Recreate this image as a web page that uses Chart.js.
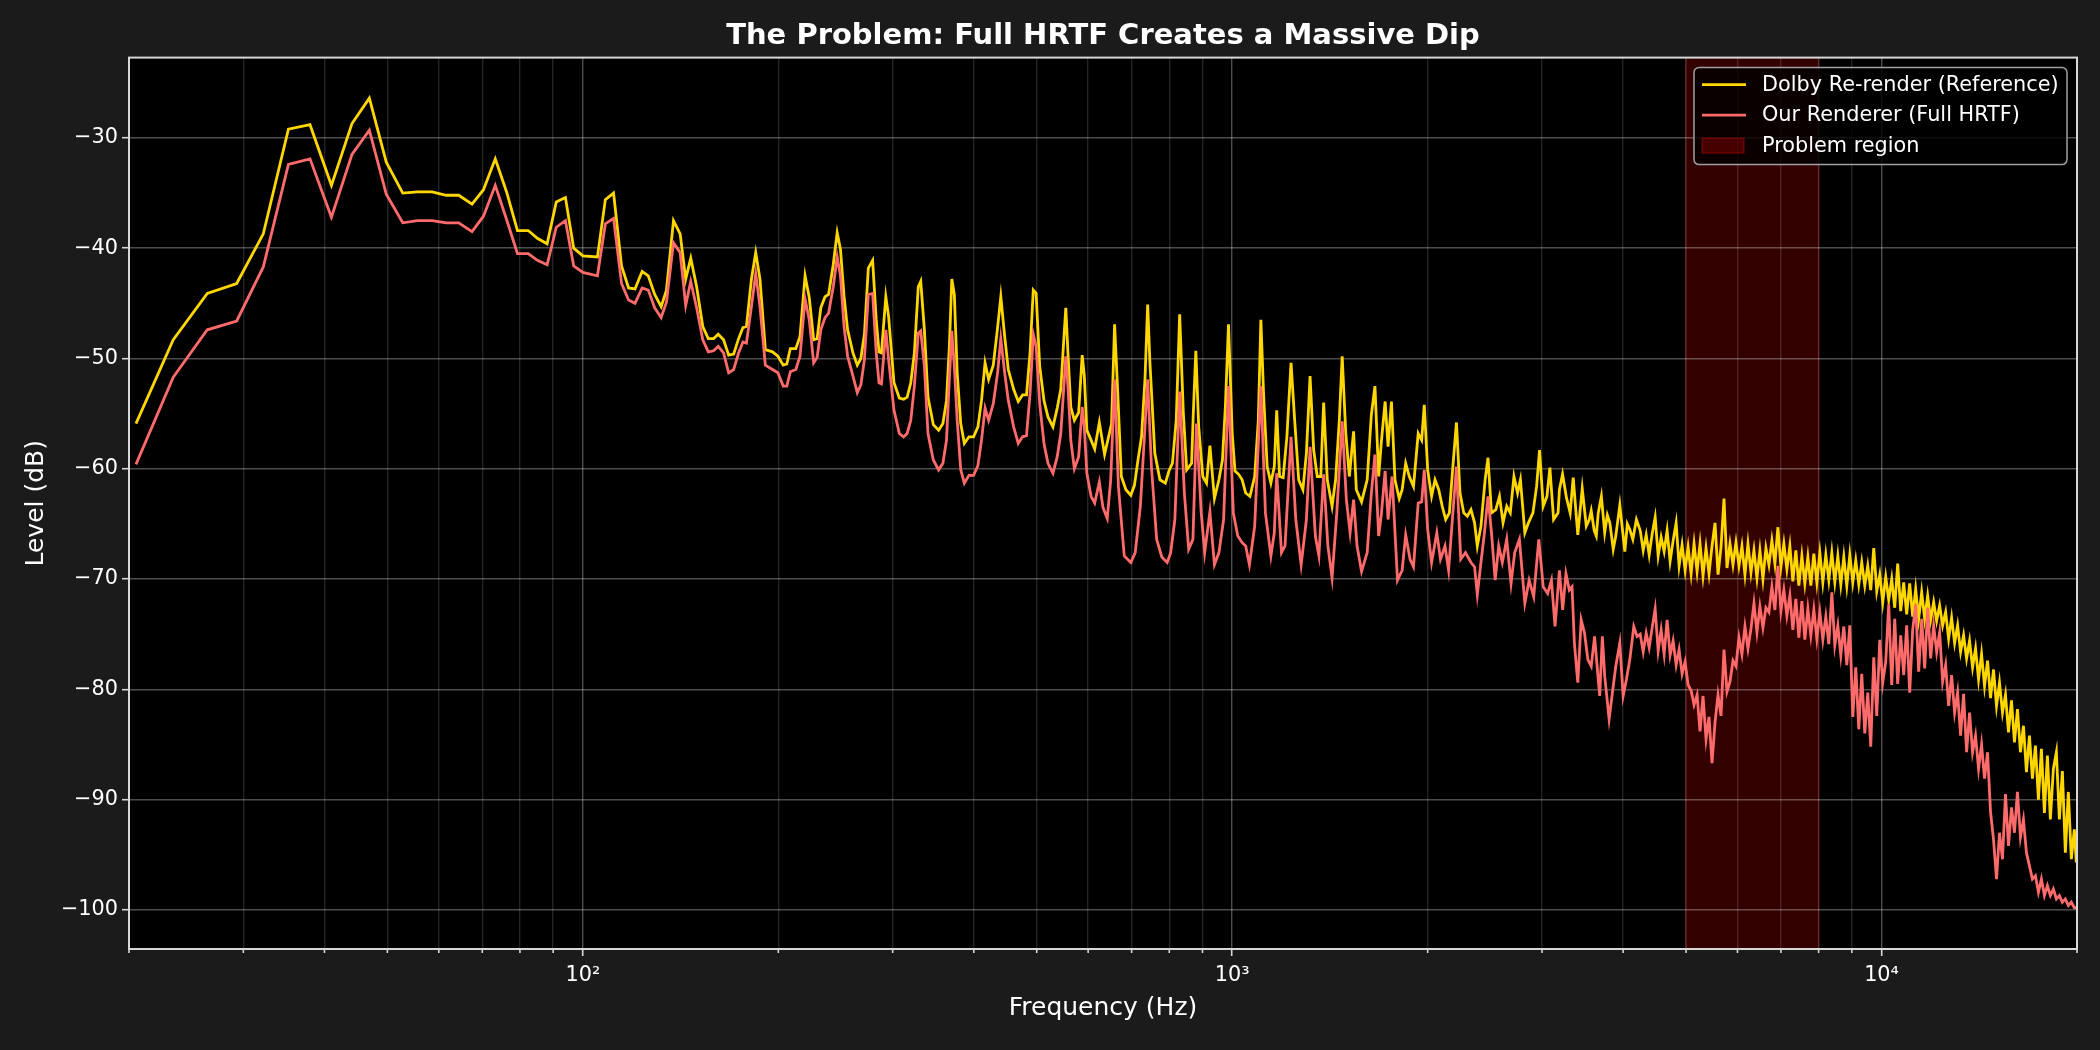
<!DOCTYPE html>
<html>
<head>
<meta charset="utf-8">
<title>The Problem: Full HRTF Creates a Massive Dip</title>
<script src="https://cdn.jsdelivr.net/npm/chart.js@4.4.1/dist/chart.umd.min.js"></script>
<style>
    html, body { margin: 0; padding: 0; background: #1b1b1b; }
    #wrap { width: 2100px; height: 1050px; }
</style>
</head>
<body>
<div id="wrap"><canvas id="hrtfChart" width="2100" height="1050"></canvas></div>
<script>
// values (Hz / dB)
// below ~4.2 kHz each trace has its own frequency list
var dolbyFreq = [20.5, 23.4, 26.4, 29.3, 32.2, 35.2, 38.0, 41.0, 44.1, 46.9, 49.8, 52.8, 55.6, 58.6, 61.6, 64.4, 67.5, 70.3, 73.3, 76.3,
    79.3, 82.4, 85.1, 88.1, 91.0, 94.0, 96.8, 100, 105.3, 108.3, 111.5, 114.7, 117.6, 120.3, 123.4, 126.1, 129, 132, 134.5, 137.9,
    141.2, 144, 146.6, 149.7, 153, 156, 159, 161.6, 164.7, 167.7, 170.7, 173.7, 176.4, 178.6, 181.8, 184.6, 187.4, 191, 195.9, 199.7,
    203.5, 206.1, 208.7, 212.8, 216, 219.9, 223.2, 226.7, 229.5, 232.5, 236, 239, 243, 246.4, 249.3, 252.5, 255.7, 260.6, 264.6, 268,
    271.4, 275.2, 279.4, 283, 285.8, 288.3, 292.8, 295.7, 301.4, 307.2, 311.9, 315.8, 319.9, 324, 328.5, 331.4, 335.7, 340, 346.5, 353.1,
    358.5, 363.1, 366.8, 370, 373.3, 377.1, 381.9, 386.8, 393.2, 399.7, 405.9, 411.1, 416.3, 421.6, 428.6, 435.2, 440.2, 446.3, 452, 460.7,
    468.3, 475.5, 482.2, 488.3, 493.9, 498.9, 505.3, 513, 520.3, 529.6, 537.7, 544.5, 550.1, 554.3, 558.5, 564.2, 571.4, 580.1, 587.5, 591.9,
    597.2, 606.3, 614.1, 624.3, 636, 652, 659, 665, 675, 686, 698, 707, 716, 725, 734, 741, 747, 760, 774, 789,
    799, 809, 820, 830, 841, 851, 866, 871, 879, 888, 901, 913, 924, 939, 954, 966, 976, 987, 1000, 1010,
    1023, 1036, 1049, 1065, 1083, 1097, 1107, 1118, 1132, 1147, 1161, 1171, 1183, 1198, 1214, 1232, 1248, 1266, 1285, 1301,
    1318, 1335, 1352, 1369, 1383, 1401, 1425, 1443, 1462, 1477, 1496, 1515, 1538, 1553, 1582, 1614, 1638, 1659, 1681, 1698,
    1720, 1738, 1759, 1781, 1808, 1827, 1850, 1874, 1902, 1934, 1958, 1976, 2000, 2028, 2053, 2080, 2106, 2132, 2160, 2187,
    2215, 2243, 2273, 2302, 2332, 2362, 2385, 2416, 2452, 2477, 2508, 2547, 2580, 2613, 2647, 2681, 2716, 2751, 2779, 2823,
    2859, 2905, 2943, 2974, 3013, 3053, 3085, 3126, 3176, 3191, 3227, 3271, 3315, 3351, 3406, 3460, 3510, 3548, 3572, 3610,
    3637, 3662, 3703, 3747, 3782, 3816, 3862, 3897, 3953, 3990, 4024, 4060, 4096, 4140, 4193];
var dolbyLevel = [-55.9, -48.3, -44.1, -43.2, -38.7, -29.2, -28.8, -34.3, -28.7, -26.4, -32.2, -35.0, -34.9, -34.9, -35.2, -35.2, -36.0, -34.7, -31.9, -34.9,
    -38.4, -38.4, -39.1, -39.6, -35.8, -35.4, -40.0, -40.7, -40.8, -35.6, -35.0, -41.6, -43.6, -43.7, -42.1, -42.5, -44.2, -45.3, -43.8, -37.5,
    -38.7, -42.8, -40.9, -43.5, -47.1, -48.2, -48.2, -47.8, -48.3, -49.7, -49.6, -48.2, -47.2, -47.1, -42.8, -40.4, -42.8, -49.2, -49.4, -49.8,
    -50.6, -50.5, -49.1, -49.1, -48.0, -42.5, -44.5, -48.3, -48.2, -45.4, -44.4, -44.2, -41.5, -38.6, -40.1, -44.4, -47.4, -49.5, -50.6, -50.0,
    -47.8, -41.8, -41.1, -46.5, -49.4, -49.5, -44.4, -46.2, -52.2, -53.6, -53.7, -53.5, -52.2, -49.5, -43.5, -43.0, -47.4, -53.5, -56.0, -56.5,
    -55.9, -53.8, -48.9, -42.8, -44.2, -51.3, -55.9, -57.7, -57.1, -57.1, -56.2, -53.8, -50.4, -51.9, -50.6, -47.2, -44.4, -48.0, -51.0, -52.8,
    -53.9, -53.3, -53.3, -49.5, -43.8, -44.1, -50.7, -53.8, -55.3, -56.2, -54.5, -52.8, -48.5, -45.4, -49.5, -54.4, -55.6, -54.9, -49.7, -51.6,
    -56.5, -57.4, -58.2, -55.8, -58.7, -55.9, -46.9, -51.9, -60.7, -61.9, -62.4, -61.5, -59.2, -57.1, -51.9, -45.1, -50.4, -58.6, -61.0, -61.3,
    -60.2, -59.5, -55.6, -46.0, -55.0, -60.1, -59.5, -55.1, -49.3, -56.2, -60.7, -61.3, -57.9, -62.7, -61.0, -59.2, -54.4, -46.9, -56.8, -60.2,
    -60.5, -61.0, -62.2, -62.5, -60.7, -55.6, -46.5, -53.4, -59.8, -61.3, -59.8, -54.7, -60.7, -60.8, -57.1, -50.4, -55.6, -61.0, -61.9, -58.6,
    -51.6, -58.3, -60.7, -60.7, -54.0, -61.0, -63.4, -61.0, -55.6, -49.8, -56.8, -60.7, -56.6, -61.9, -63.0, -61.0, -55.1, -52.5, -60.7, -57.4,
    -53.9, -58.0, -53.9, -61.0, -62.7, -61.9, -59.5, -60.7, -61.6, -56.8, -57.4, -54.2, -60.1, -62.5, -61.0, -61.9, -63.4, -64.6, -64.0, -59.8,
    -55.8, -62.2, -64.0, -64.3, -63.7, -64.9, -67.0, -65.2, -61.0, -59.0, -64.0, -63.7, -62.5, -64.9, -63.4, -64.0, -60.7, -62.2, -61.0, -65.8,
    -64.9, -64.0, -61.6, -58.3, -63.4, -62.5, -59.9, -64.6, -64.0, -61.9, -60.5, -62.6, -64.0, -60.8, -66.0, -61.8, -65.2, -64.6, -63.8, -65.6,
    -66.1, -64.0, -62.5, -65.8, -64.2, -64.9, -67.3, -66.1, -63.3, -65.5, -67.5, -65.0, -65.5, -66.4, -64.6];

var oursFreq = [20.5, 23.4, 26.4, 29.3, 32.2, 35.2, 38.0, 41.0, 44.1, 46.9, 49.8, 52.8, 55.6, 58.6, 61.6, 64.4, 67.5, 70.3, 73.3, 76.3,
    79.3, 82.4, 85.1, 88.1, 91.0, 94.0, 96.8, 100, 105.3, 108.3, 111.5, 114.7, 117.6, 120.3, 123.4, 126.1, 129, 132, 134.5, 137.9,
    141.2, 144, 146.6, 149.7, 153, 156, 159, 161.6, 164.7, 167.7, 170.7, 173.7, 176.4, 178.6, 181.8, 184.6, 187.4, 191, 195.9, 199.7,
    203.5, 206.1, 208.7, 212.8, 216, 219.9, 223.2, 226.7, 229.5, 232.5, 236, 239, 243, 246.4, 249.3, 252.5, 255.7, 260.6, 264.6, 268,
    271.4, 275.2, 279.4, 283, 285.8, 288.3, 292.8, 295.7, 301.4, 307.2, 311.9, 315.8, 319.9, 324, 328.5, 331.4, 335.7, 340, 346.5, 353.1,
    358.5, 363.1, 366.8, 370, 373.3, 377.1, 381.9, 386.8, 393.2, 399.7, 405.9, 411.1, 416.3, 421.6, 428.6, 435.2, 440.2, 446.3, 452, 460.7,
    468.3, 475.5, 482.2, 488.3, 493.9, 498.9, 505.3, 513, 520.3, 529.6, 537.7, 544.5, 550.1, 554.3, 558.5, 564.2, 571.4, 580.1, 587.5, 591.9,
    597.2, 606.3, 614.1, 624.3, 632.3, 642, 650, 659, 668, 682, 698, 709, 722, 731, 741, 751, 765, 779, 794, 804,
    816, 830, 844, 857, 870, 881, 896, 907, 924, 939, 954, 970, 987, 1004, 1020, 1036, 1049, 1063, 1083, 1107,
    1125, 1147, 1161, 1171, 1191, 1206, 1232, 1253, 1277, 1301, 1318, 1343, 1360, 1383, 1404, 1425, 1449, 1477, 1499, 1519,
    1538, 1557, 1582, 1614, 1638, 1659, 1681, 1698, 1720, 1738, 1763, 1797, 1827, 1850, 1879, 1902, 1934, 1958, 1976, 2000,
    2028, 2066, 2093, 2127, 2154, 2187, 2215, 2249, 2287, 2332, 2362, 2385, 2416, 2446, 2477, 2508, 2541, 2573, 2606, 2647,
    2688, 2723, 2769, 2823, 2866, 2913, 2966, 3013, 3061, 3102, 3142, 3191, 3228, 3266, 3305, 3337, 3365, 3406, 3447, 3488,
    3530, 3572, 3615, 3658, 3681, 3716, 3747, 3806, 3851, 3897, 3953, 4000, 4047, 4096, 4154, 4203];
var oursLevel = [-59.6, -51.7, -47.4, -46.6, -41.7, -32.4, -31.9, -37.2, -31.5, -29.3, -35.1, -37.7, -37.5, -37.5, -37.7, -37.7, -38.5, -37.1, -34.3, -37.4,
    -40.5, -40.5, -41.1, -41.5, -38.1, -37.5, -41.6, -42.2, -42.5, -37.8, -37.3, -43.2, -44.7, -45.0, -43.6, -43.8, -45.4, -46.3, -44.9, -39.5,
    -40.4, -45.2, -43.0, -45.4, -48.3, -49.4, -49.3, -48.9, -49.5, -51.3, -51.0, -49.5, -48.5, -48.6, -45.3, -42.3, -45.3, -50.6, -51.0, -51.3,
    -52.5, -52.5, -51.2, -51.0, -49.8, -44.6, -46.5, -50.4, -49.9, -47.4, -46.3, -45.9, -43.5, -40.8, -42.5, -47.1, -49.8, -51.6, -53.1, -52.4,
    -50.1, -44.2, -44.1, -49.5, -52.2, -52.3, -47.4, -50.1, -54.7, -56.8, -57.1, -56.8, -55.6, -52.5, -47.7, -47.5, -50.7, -56.8, -59.2, -60.1,
    -59.5, -57.4, -51.9, -47.5, -50.7, -55.6, -60.1, -61.3, -60.6, -60.6, -59.7, -57.4, -54.5, -55.6, -54.1, -51.3, -48.2, -51.3, -53.8, -56.2,
    -57.7, -57.1, -57.0, -53.2, -47.8, -48.9, -54.1, -57.7, -59.5, -60.4, -58.9, -56.8, -52.8, -49.8, -52.5, -57.4, -60.0, -58.9, -54.4, -56.2,
    -60.4, -62.5, -63.1, -61.2, -63.5, -64.5, -61.0, -51.9, -61.6, -67.9, -68.5, -67.6, -63.4, -58.0, -51.9, -59.8, -66.4, -68.0, -68.5, -67.6,
    -64.6, -53.0, -62.2, -67.3, -66.4, -55.9, -64.0, -67.6, -63.9, -68.7, -67.6, -64.6, -52.5, -64.0, -66.1, -66.7, -67.0, -68.7, -65.2, -52.5,
    -64.0, -67.9, -65.8, -60.4, -67.6, -67.0, -57.1, -64.6, -68.7, -64.6, -58.0, -66.1, -67.9, -60.5, -67.0, -69.9, -64.0, -55.7, -62.8, -65.8,
    -62.8, -67.0, -69.3, -67.6, -62.2, -58.7, -66.1, -64.0, -60.2, -64.6, -60.7, -70.1, -69.2, -66.0, -68.2, -68.9, -63.1, -63.0, -60.1, -65.5,
    -68.5, -65.8, -68.2, -67.0, -69.2, -64.0, -59.8, -68.2, -67.6, -68.5, -68.9, -71.4, -68.5, -65.8, -62.5, -65.8, -70.1, -67.0, -68.5, -66.4,
    -70.4, -67.6, -66.4, -72.2, -70.1, -71.6, -66.4, -70.7, -71.3, -70.1, -74.3, -69.2, -72.8, -69.5, -71.0, -70.7, -75.8, -79.4, -73.7, -74.9,
    -77.3, -77.9, -75.2, -78.8, -80.6, -75.2, -78.8, -82.7, -80.3, -77.9, -75.8, -80.6, -79.1, -77.3, -74.3, -75.2];

// above ~4.2 kHz both traces are read on one shared, finer frequency list
var hfFreq = [4250, 4295, 4341, 4387, 4434, 4481, 4529, 4577, 4626, 4675,
    4725, 4776, 4827, 4878, 4930, 4983, 5036, 5090, 5144, 5199,
    5254, 5310, 5367, 5424, 5482, 5541, 5600, 5660, 5720, 5781,
    5843, 5905, 5968, 6032, 6096, 6161, 6227, 6294, 6361, 6429,
    6497, 6567, 6637, 6708, 6779, 6852, 6925, 6999, 7073, 7149,
    7225, 7302, 7380, 7459, 7539, 7619, 7701, 7783, 7866, 7950,
    8035, 8121, 8207, 8295, 8384, 8473, 8564, 8655, 8748, 8841,
    8936, 9031, 9127, 9225, 9323, 9423, 9523, 9625, 9728, 9832,
    9937, 10043, 10150, 10258, 10368, 10479, 10590, 10704, 10818, 10933,
    11050, 11168, 11287, 11408, 11530, 11653, 11777, 11903, 12030, 12158,
    12288, 12419, 12552, 12686, 12821, 12958, 13096, 13236, 13377, 13520,
    13664, 13810, 13957, 14106, 14257, 14409, 14563, 14718, 14875, 15034,
    15194, 15356, 15520, 15686, 15853, 16022, 16193, 16366, 16541, 16717,
    16896, 17076, 17258, 17443, 17629, 17817, 18007, 18199, 18393, 18590,
    18788, 18989, 19191, 19396, 19603, 19812, 19950];
var dolbyHf = [-65.6, -67.4, -66.0, -67.8, -65.9, -64.4, -67.9, -66.2, -67.5, -65.6,
    -68.4, -66.5, -64.9, -68.8, -66.9, -69.2, -67.1, -69.5, -66.8, -69.3,
    -66.8, -69.7, -67.2, -69.5, -67.0, -64.9, -69.6, -67.1, -62.7, -69.0,
    -66.8, -68.7, -66.7, -68.8, -67.0, -69.6, -66.8, -69.4, -67.4, -69.9,
    -67.4, -70.0, -67.2, -68.7, -66.5, -68.6, -65.3, -68.9, -66.8, -69.1,
    -67.0, -70.2, -67.4, -70.6, -67.9, -70.4, -68.0, -70.6, -67.7, -70.3,
    -67.6, -70.3, -67.8, -70.1, -67.6, -70.3, -67.9, -70.5, -68.0, -70.6,
    -67.8, -70.3, -68.3, -70.5, -68.5, -70.6, -68.8, -71.0, -67.2, -71.1,
    -69.6, -72.1, -69.8, -71.9, -70.0, -72.6, -68.6, -72.9, -70.3, -73.2,
    -70.4, -73.4, -70.9, -73.6, -71.2, -73.6, -71.5, -73.7, -72.1, -73.8,
    -72.4, -74.2, -73.0, -75.4, -73.5, -75.8, -74.2, -76.6, -75.1, -77.2,
    -75.6, -78.0, -76.3, -79.1, -76.8, -79.7, -77.4, -80.8, -78.2, -81.5,
    -79.4, -82.1, -80.5, -83.9, -81.0, -84.8, -81.8, -85.7, -83.3, -87.5,
    -84.2, -88.1, -85.1, -90.0, -85.4, -91.2, -86.0, -91.8, -87.2, -85.7,
    -91.8, -87.4, -94.8, -89.3, -95.4, -92.7, -95.7];
var oursHf = [-75.0, -76.6, -74.9, -76.2, -74.4, -72.7, -76.5, -74.6, -76.8, -73.7,
    -76.9, -75.6, -77.8, -76.4, -78.6, -77.5, -79.6, -80.1, -81.4, -80.5,
    -83.8, -80.6, -84.5, -82.5, -86.7, -83.0, -80.5, -82.4, -76.4, -80.2,
    -79.3, -77.4, -77.9, -75.3, -76.8, -74.3, -76.3, -74.5, -72.2, -74.8,
    -72.5, -74.4, -72.6, -73.0, -70.7, -72.8, -68.8, -72.9, -71.0, -73.3,
    -71.5, -74.6, -71.8, -75.3, -72.0, -75.5, -72.7, -75.1, -72.8, -75.4,
    -73.0, -75.5, -73.4, -75.9, -71.2, -76.0, -74.2, -76.9, -74.3, -77.8,
    -74.2, -82.5, -78.0, -83.6, -78.6, -84.0, -80.3, -85.2, -77.1, -82.4,
    -75.5, -79.4, -77.5, -72.3, -79.6, -73.6, -79.5, -75.1, -78.7, -74.2,
    -80.3, -74.6, -72.3, -78.4, -73.6, -78.1, -72.6, -77.2, -74.2, -76.6,
    -74.8, -79.3, -77.8, -81.5, -78.7, -82.1, -80.3, -84.2, -80.4, -85.7,
    -82.1, -85.7, -84.2, -87.2, -85.0, -88.1, -85.7, -91.1, -93.6, -97.2,
    -93.0, -95.4, -89.5, -94.2, -90.7, -93.0, -89.3, -93.4, -91.8, -94.8,
    -96.0, -97.2, -96.9, -98.4, -97.2, -98.7, -97.8, -98.7, -98.1, -99.0,
    -98.7, -99.3, -99.0, -99.6, -99.3, -99.8, -99.8];

var problemBand = [5000, 8000];
var xTickValues = [20, 30, 40, 50, 60, 70, 80, 90, 100, 200, 300, 400, 500, 600, 700, 800, 900,
    1000, 2000, 3000, 4000, 5000, 6000, 7000, 8000, 9000, 10000, 20000];
var yTicks = [-100, -90, -80, -70, -60, -50, -40, -30];
var decadeLabels = { 100: '10\u00B2', 1000: '10\u00B3', 10000: '10\u2074' };

var dolbyColor = '#FFD700';
var oursColor = '#FF6B6B';

function toPoints(xs, ys) {
    var pts = [];
    for (var i = 0; i < xs.length; i++) {
        pts.push({ x: xs[i], y: ys[i] });
    }
    return pts;
}

function isDecade(v) {
    var l = Math.log10(v);
    return Math.abs(l - Math.round(l)) < 1e-6;
}

// background, plot face and the shaded band sit under the grid
var underlay = {
    id: 'underlay',
    beforeDraw: function (chart) {
        var ctx = chart.ctx;
        var area = chart.chartArea;
        var xs = chart.scales.x;
        ctx.save();
        ctx.fillStyle = '#1b1b1b';
        ctx.fillRect(0, 0, chart.width, chart.height);
        ctx.fillStyle = '#000000';
        ctx.fillRect(area.left, area.top, area.right - area.left, area.bottom - area.top);
        var x0 = xs.getPixelForValue(problemBand[0]);
        var x1 = xs.getPixelForValue(problemBand[1]);
        ctx.fillStyle = 'rgba(255,0,0,0.2)';
        ctx.fillRect(x0, area.top, x1 - x0, area.bottom - area.top);
        ctx.strokeStyle = 'rgba(255,40,40,0.25)';
        ctx.lineWidth = 1.5;
        ctx.beginPath();
        ctx.moveTo(x0, area.top); ctx.lineTo(x0, area.bottom);
        ctx.moveTo(x1, area.top); ctx.lineTo(x1, area.bottom);
        ctx.stroke();
        ctx.restore();
    }
};

// frame, minor x ticks and the legend box
var overlay = {
    id: 'overlay',
    afterDatasetsDraw: function (chart) {
        var ctx = chart.ctx;
        var area = chart.chartArea;
        var xs = chart.scales.x;
        ctx.save();

        ctx.strokeStyle = '#d8d8d8';
        ctx.lineWidth = 1.6;
        xTickValues.forEach(function (v) {
            if (isDecade(v)) return;
            var px = xs.getPixelForValue(v);
            ctx.beginPath();
            ctx.moveTo(px, area.bottom);
            ctx.lineTo(px, area.bottom + 4);
            ctx.stroke();
        });

        ctx.lineWidth = 2;
        ctx.strokeRect(area.left, area.top, area.right - area.left, area.bottom - area.top);

        // legend
        var bw = 373, bh = 97;
        var bx = area.right - 10 - bw, by = area.top + 10;
        ctx.beginPath();
        ctx.roundRect(bx, by, bw, bh, 5);
        ctx.fillStyle = 'rgba(0,0,0,0.8)';
        ctx.fill();
        ctx.strokeStyle = '#a0a0a0';
        ctx.lineWidth = 1.5;
        ctx.stroke();

        var rows = [
            { label: 'Dolby Re-render (Reference)', kind: 'line', color: dolbyColor },
            { label: 'Our Renderer (Full HRTF)', kind: 'line', color: oursColor },
            { label: 'Problem region', kind: 'box' }
        ];
        ctx.font = '20.8px "DejaVu Sans"';
        ctx.textBaseline = 'middle';
        ctx.textAlign = 'left';
        rows.forEach(function (r, i) {
            var cy = by + 17 + i * 30.5;
            if (r.kind === 'line') {
                ctx.strokeStyle = r.color;
                ctx.lineWidth = 2.8;
                ctx.beginPath();
                ctx.moveTo(bx + 8, cy);
                ctx.lineTo(bx + 52, cy);
                ctx.stroke();
            } else {
                ctx.fillStyle = 'rgba(255,0,0,0.25)';
                ctx.fillRect(bx + 8, cy - 7.5, 42, 15);
                ctx.strokeStyle = 'rgba(255,0,0,0.35)';
                ctx.lineWidth = 1.2;
                ctx.strokeRect(bx + 8, cy - 7.5, 42, 15);
            }
            ctx.fillStyle = '#ffffff';
            ctx.fillText(r.label, bx + 68, cy + 1);
        });
        ctx.restore();
    }
};

Chart.defaults.font.family = '"DejaVu Sans", sans-serif';
Chart.defaults.color = '#ffffff';

var dolbyPoints = toPoints(dolbyFreq, dolbyLevel).concat(toPoints(hfFreq, dolbyHf));
var oursPoints = toPoints(oursFreq, oursLevel).concat(toPoints(hfFreq, oursHf));

var ctx = document.getElementById('hrtfChart').getContext('2d');
var hrtfChart = new Chart(ctx, {
    type: 'line',
    data: {
        datasets: [
            {
                label: 'Dolby Re-render (Reference)',
                data: dolbyPoints,
                borderColor: dolbyColor,
                borderWidth: 2.8,
                pointRadius: 0,
                tension: 0,
                fill: false,
                order: 2
            },
            {
                label: 'Our Renderer (Full HRTF)',
                data: oursPoints,
                borderColor: oursColor,
                borderWidth: 2.8,
                pointRadius: 0,
                tension: 0,
                fill: false,
                order: 1
            }
        ]
    },
    options: {
        responsive: false,
        devicePixelRatio: 1,
        animation: false,
        parsing: false,
        normalized: true,
        layout: { padding: { left: 0, right: 23, top: 0, bottom: 0 } },
        plugins: {
            legend: { display: false },
            tooltip: { enabled: false },
            title: {
                display: true,
                text: 'The Problem: Full HRTF Creates a Massive Dip',
                color: '#ffffff',
                fullSize: false,
                font: { size: 29, weight: 'bold' },
                padding: { top: 19.5, bottom: 3.3 }
            }
        },
        scales: {
            x: {
                type: 'logarithmic',
                min: 20,
                max: 20000,
                afterBuildTicks: function (scale) {
                    scale.ticks = xTickValues.map(function (v) { return { value: v }; });
                },
                afterFit: function (scale) { scale.height = 101; },
                ticks: {
                    autoSkip: false,
                    maxRotation: 0,
                    color: '#ffffff',
                    padding: 7,
                    font: { size: 20.8 },
                    callback: function (value) { return decadeLabels[value] || ''; }
                },
                grid: {
                    color: function (c) {
                        return c.tick && isDecade(c.tick.value) ? 'rgba(255,255,255,0.3)' : 'rgba(255,255,255,0.14)';
                    },
                    lineWidth: 1.4,
                    tickLength: 7,
                    tickWidth: 1.6,
                    tickColor: function (c) {
                        return c.tick && isDecade(c.tick.value) ? '#d8d8d8' : 'rgba(0,0,0,0)';
                    }
                },
                border: { display: false },
                title: {
                    display: true,
                    text: 'Frequency (Hz)',
                    color: '#ffffff',
                    font: { size: 25 },
                    padding: { top: 0, bottom: 27 }
                }
            },
            y: {
                type: 'linear',
                min: -103.54,
                max: -22.72,
                afterBuildTicks: function (scale) {
                    scale.ticks = yTicks.map(function (v) { return { value: v }; });
                },
                afterFit: function (scale) { scale.width = 129; },
                ticks: {
                    color: '#ffffff',
                    padding: 4,
                    font: { size: 20.8 },
                    callback: function (value) { return '\u2212' + Math.abs(value); }
                },
                grid: {
                    color: 'rgba(255,255,255,0.3)',
                    lineWidth: 1.4,
                    tickLength: 7,
                    tickWidth: 1.6,
                    tickColor: '#d8d8d8'
                },
                border: { display: false },
                title: {
                    display: true,
                    text: 'Level (dB)',
                    color: '#ffffff',
                    font: { size: 25 },
                    padding: { top: 21, bottom: 0 }
                }
            }
        }
    },
    plugins: [underlay, overlay]
});
</script>
</body>
</html>
